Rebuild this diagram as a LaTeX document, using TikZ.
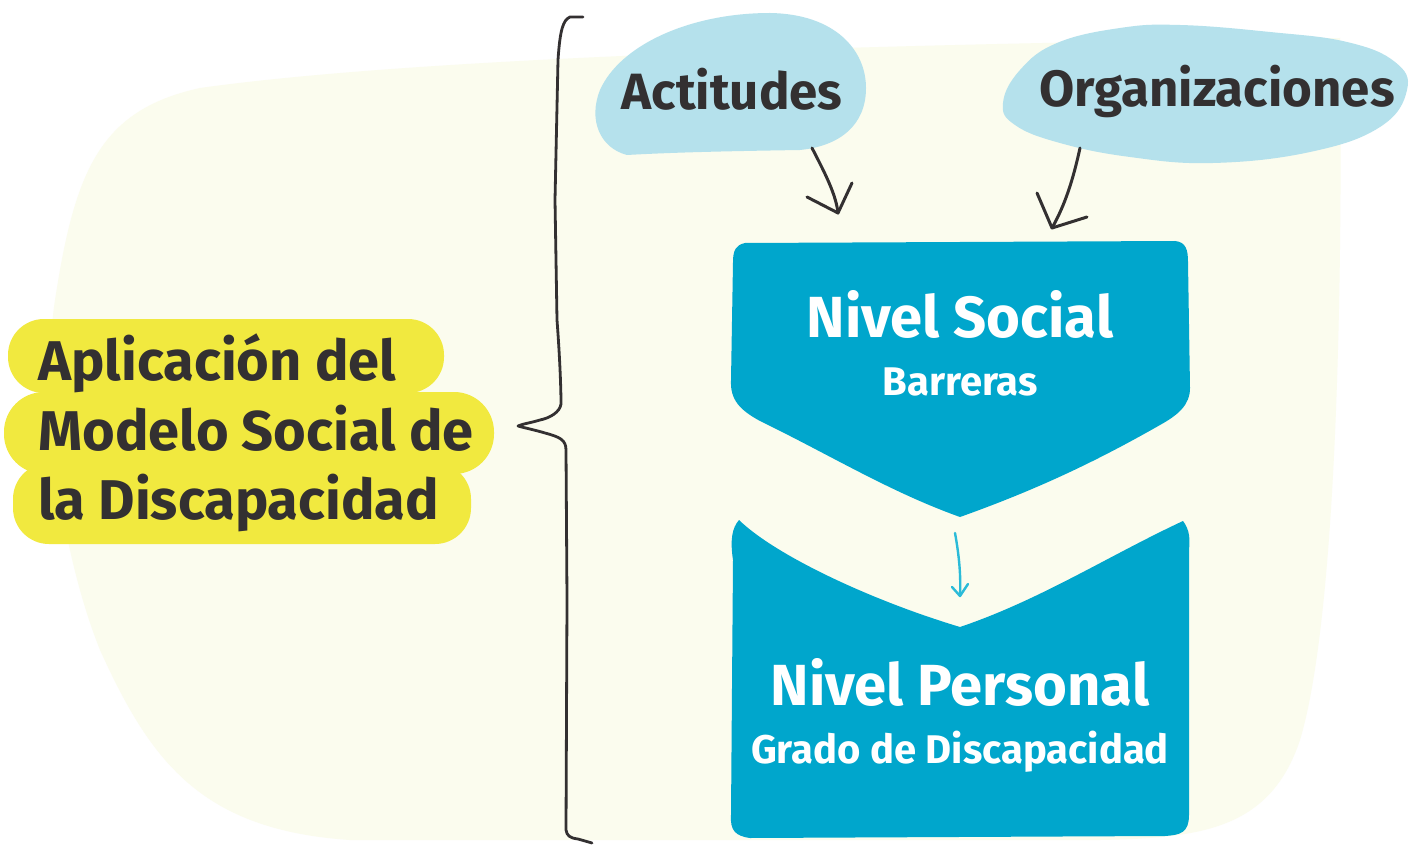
\documentclass[tikz,border=0pt]{standalone}
\usepackage{fontspec}
\setmainfont{Fira Sans}
\definecolor{cream}{HTML}{FBFCEE}
\definecolor{bubble}{HTML}{B5E1EC}
\definecolor{boxblue}{HTML}{00A6CC}
\definecolor{ink}{HTML}{333031}
\definecolor{hl}{HTML}{F1E93F}
\definecolor{cyanarrow}{HTML}{2BBBD8}
\tikzset{
  titletext/.style={anchor=base west, inner sep=0pt, text=ink, font=\fontsize{28}{33}\selectfont\bfseries},
  bigwhite/.style={anchor=base, inner sep=0pt, text=white, font=\fontsize{29}{34}\selectfont\bfseries},
  smallwhite/.style={anchor=base, inner sep=0pt, text=white, font=\fontsize{20}{24}\selectfont\bfseries},
  bubbletext/.style={anchor=base, inner sep=0pt, text=ink, font=\fontsize{25.5}{30}\selectfont\bfseries},
  inkline/.style={draw=ink, line width=1.5pt, line cap=round, line join=round},
  braceline/.style={draw=ink, line width=1.4pt, line cap=round, line join=round},
  cyanline/.style={draw=cyanarrow, line width=1.2pt, line cap=round, line join=round}
}
\begin{document}
\begin{tikzpicture}[x=0.5pt,y=-0.5pt]
\useasboundingbox (0,0) rectangle (1424,845);
\fill[white] (0,0) rectangle (1424,845);
% background blob
\fill[cream] (1340,38) .. controls (1343,300) and (1336,620) .. (1300,740)
  .. controls (1270,830) and (1200,838) .. (1100,840) -- (350,840)
  .. controls (200,830) and (150,760) .. (100,650)
  .. controls (60,550) and (40,400) .. (55,300)
  .. controls (75,170) and (100,110) .. (200,88)
  .. controls (400,60) and (800,45) .. (1340,38) -- cycle;
% bubbles
\fill[bubble] (627,155) .. controls (600,148) and (588,120) .. (600,90)
  .. controls (620,45) and (690,13) .. (770,13)
  .. controls (835,14) and (866,50) .. (866,88)
  .. controls (866,125) and (840,146) .. (800,150)
  .. controls (740,151) and (680,152) .. (627,155) -- cycle;
\fill[bubble] plot[smooth cycle, tension=0.7] coordinates {(1003,103) (1020,70) (1057,43) (1120,28) (1180,25) (1270,32) (1347,42) (1395,62) (1407,90) (1380,127) (1310,152) (1213,163) (1130,157) (1060,143) (1015,125)};
% top box
\fill[boxblue] (745,243) -- (1175,241) .. controls (1186,242) and (1188,250) .. (1188,262)
  -- (1190,388) .. controls (1190,405) and (1178,415) .. (1160,425)
  .. controls (1090,465) and (1030,492) .. (960,517)
  .. controls (890,492) and (830,455) .. (760,421)
  .. controls (740,410) and (730,400) .. (731,380)
  -- (733,262) .. controls (733,250) and (736,245) .. (745,243) -- cycle;
% bottom box
\fill[boxblue] (739,520) .. controls (775,555) and (870,600) .. (960,627)
  .. controls (1040,600) and (1110,555) .. (1183,521)
  .. controls (1190,530) and (1190,540) .. (1189,550)
  -- (1189,815) .. controls (1189,833) and (1180,835) .. (1165,836)
  -- (750,838) .. controls (735,836) and (730,830) .. (731,815)
  -- (733,560) .. controls (730,540) and (732,528) .. (739,520) -- cycle;
% yellow pills
\fill[hl, rounded corners=18pt] (8,319) rectangle (444,393);
\fill[hl, rounded corners=20pt] (4,392) rectangle (494,474);
\fill[hl, rounded corners=18pt] (13,463) rectangle (471,544);
% texts
\node[titletext] (t1) at (38,380) {Aplicación del};
\node[titletext] (t2) at (38,450) {Modelo Social de};
\node[titletext] (t3) at (38,519) {la Discapacidad};
\node[bigwhite] (ns) at (960,337) {Nivel Social};
\node[smallwhite] (bar) at (960,395) {Barreras};
\node[bigwhite] (np) at (960,705) {Nivel Personal};
\node[smallwhite] (gd) at (960,763) {Grado de Discapacidad};
\node[bubbletext] (act) at (732,110) {Actitudes};
\node[bubbletext] (org) at (1217,107) {Organizaciones};
% brace
\draw[braceline] (583,17) -- (570,17) .. controls (563,20) and (560,30) .. (558,60)
  -- (555,200) -- (557,320) .. controls (560,360) and (561,390) .. (561,404)
  .. controls (560,412) and (550,418) .. (540,420)
  .. controls (530,423) and (522,424) .. (518,426)
  .. controls (525,428) and (535,430) .. (545,433)
  .. controls (560,437) and (566,440) .. (566,450)
  -- (567,600) -- (566,830) .. controls (567,836) and (570,838) .. (578,839) -- (592,843);
% arrows
\coordinate (a1s) at (812,148); \coordinate (a1e) at (838,213);
\coordinate (a1l) at (807,197); \coordinate (a1r) at (852,183);
\draw[inkline] (a1s) .. controls (826,175) and (836,195) .. (a1e);
\draw[inkline] (a1l) -- (a1e) -- (a1r);
\coordinate (a2s) at (1080,148); \coordinate (a2e) at (1052,228);
\coordinate (a2l) at (1037,193); \coordinate (a2r) at (1087,217);
\draw[inkline] (a2s) .. controls (1073,180) and (1065,205) .. (a2e);
\draw[inkline] (a2l) -- (a2e) -- (a2r);
\coordinate (a3s) at (955,533); \coordinate (a3e) at (960,596);
\coordinate (a3l) at (952,587); \coordinate (a3r) at (968,584);
\draw[cyanline] (a3s) .. controls (959,555) and (961,575) .. (a3e);
\draw[cyanline] (a3l) -- (a3e) -- (a3r);
\end{tikzpicture}
\end{document}
